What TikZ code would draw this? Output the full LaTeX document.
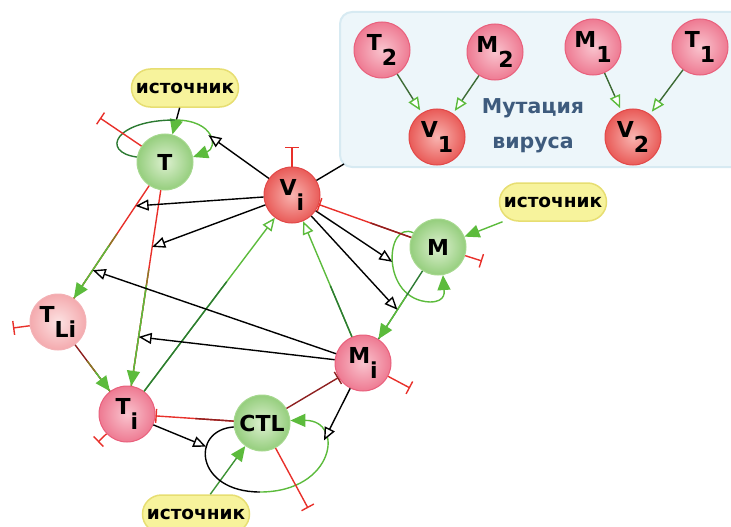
\documentclass[tikz,border=0pt]{standalone}
\usepackage{fontspec}
\setmainfont{DejaVu Sans}
\usetikzlibrary{arrows.meta}
\definecolor{inhred}{HTML}{E8302A}
\definecolor{deepred}{HTML}{8E2020}
\definecolor{muddy}{HTML}{8A7A25}
\definecolor{actgreen}{HTML}{5CBB3C}
\definecolor{deepgreen}{HTML}{2C7A32}
\definecolor{mutline}{HTML}{3D6B35}
\definecolor{boxfill}{HTML}{EDF6FA}
\definecolor{boxdraw}{HTML}{D7EAF2}
\definecolor{srcfill}{HTML}{F7F39C}
\definecolor{srcdraw}{HTML}{E7DE72}
\definecolor{mutblue}{HTML}{3E5B7D}
\definecolor{virusin}{HTML}{F8B4B0}
\definecolor{virusout}{HTML}{E95B58}
\definecolor{virusdraw}{HTML}{E24848}
\definecolor{sickin}{HTML}{F9C4CE}
\definecolor{sickout}{HTML}{EE7A92}
\definecolor{sickdraw}{HTML}{E9607C}
\definecolor{latin}{HTML}{FCE2E2}
\definecolor{latout}{HTML}{F4AAAE}
\definecolor{latdraw}{HTML}{F3B2B6}
\definecolor{immin}{HTML}{DDF0D0}
\definecolor{immout}{HTML}{95CE7D}
\definecolor{immdraw}{HTML}{A6D88F}
\newcommand{\idx}[1]{\raisebox{-0.7em}{#1}}

\begin{document}
\begin{tikzpicture}[x=1pt,y=-1pt,line width=1.4pt,
  cell/.style={circle,minimum size=56pt,inner sep=0pt,line width=1pt,
    font=\bfseries\fontsize{22}{22}\selectfont},
  virus/.style={cell,draw=virusdraw,inner color=virusin,outer color=virusout},
  sick/.style={cell,draw=sickdraw,inner color=sickin,outer color=sickout},
  latent/.style={cell,draw=latdraw,inner color=latin,outer color=latout},
  immune/.style={cell,draw=immdraw,inner color=immin,outer color=immout},
  source/.style={rounded corners=19pt,minimum width=107pt,minimum height=38pt,
    fill=srcfill,draw=srcdraw,line width=1.5pt,
    font=\bfseries\fontsize{18.5}{18}\selectfont},
  stim/.style={-{Triangle[length=13pt,width=11pt,fill=white]}},
  greenstim/.style={draw=actgreen,-{Triangle[length=13pt,width=11pt,color=actgreen,fill=white]}},
  feed/.style={-{Triangle[length=15pt,width=13pt,color=actgreen]}},
  inhibit/.style={-{Bar[width=14pt]}},
  mutarr/.style={draw=mutline,shorten >=3pt,
    -{Triangle[length=13pt,width=11pt,color=actgreen,fill=white]}}]
  \useasboundingbox (0,0) rectangle (731,527);

  % mutation panel
  \draw[boxdraw,fill=boxfill,line width=2pt,rounded corners=12pt]
    (340,12) rectangle (750,167);
  \coordinate (mutcorner) at (344,164);
  \node[sick] (T2) at (382,50) {T\idx{2}};
  \node[sick] (M2) at (495,52) {M\idx{2}};
  \node[sick] (M1) at (593,47) {M\idx{1}};
  \node[sick] (T1) at (700,47) {T\idx{1}};
  \node[virus] (V1) at (437,137) {V\idx{1}};
  \node[virus] (V2) at (633,137) {V\idx{2}};
  \node[font=\bfseries\fontsize{20.5}{35}\selectfont,text=mutblue,align=center]
    (mutlabel) at (533,126) {Мутация\\вируса};
  \draw[mutarr] (T2) -- (V1);
  \draw[mutarr] (M2) -- (V1);
  \draw[mutarr] (M1) -- (V2);
  \draw[mutarr] (T1) -- (V2);

  % cells
  \node[immune] (T) at (165,162) {T};
  \node[virus] (Vi) at (292,195) {V\idx{i}};
  \node[immune] (M) at (438,247) {M};
  \node[latent] (TLi) at (58,322) {T\idx{Li}};
  \node[sick] (Mi) at (363,363) {M\idx{i}};
  \node[sick] (Ti) at (127,414) {T\idx{i}};
  \node[immune] (CTL) at (262,423) {CTL};

  % sources
  \node[source] (srcT) at (185,88) {источник};
  \node[source] (srcM) at (553,202) {источник};
  \node[source] (srcC) at (196,514) {источник};
  \draw[feed] (srcT) -- (T);
  \draw[feed,draw=actgreen] (srcM) -- (M);
  \draw[feed,draw=deepgreen!60!actgreen] (srcC) -- (CTL);

  % proliferation loops
  \coordinate (Ttop) at (175,120);
  \draw[deepgreen] (T.170) .. controls (100,152) and (115,120) .. (Ttop);
  \draw[feed,draw=actgreen] (Ttop) .. controls (215,120) and (218,148) ..
    coordinate[pos=.5] (Tloop) (T.10);
  \coordinate (Mbot) at (430,302);
  \draw[actgreen] (M.150) .. controls (385,220) and (380,300) ..
    coordinate[pos=.5] (Mloop) (Mbot);
  \draw[feed,draw=actgreen] (Mbot) .. controls (447,302) and (444,290) .. (M.280);
  \coordinate (CTLbot) at (260,492);
  \draw (CTL.188) .. controls (190,430) and (195,492) ..
    coordinate[pos=.35] (CTLin) (CTLbot);
  \draw[feed,draw=actgreen] (CTLbot) .. controls (335,492) and (345,420) ..
    coordinate[pos=.65] (CTLin2) (CTL.5);

  % infection routes
  \path (T) -- coordinate[pos=.18] (onTL) coordinate[pos=.75] (onTLb) (TLi);
  \path (T) -- coordinate[pos=.29] (onTi) coordinate[pos=.75] (onTib) (Ti);
  \path (M) -- coordinate[pos=.57] (onMi) (Mi);
  \draw[inhred] (T) -- (TLi);
  \draw[muddy,shorten <=58pt] (T) -- (TLi);
  \draw[feed,draw=actgreen,shorten <=72pt] (T) -- (TLi);
  \draw[inhred] (T) -- (Ti);
  \draw[muddy,shorten <=80pt] (T) -- (Ti);
  \draw[feed,draw=actgreen,shorten <=96pt] (T) -- (Ti);
  \draw[deepred] (TLi) -- (Ti);
  \draw[muddy,shorten <=20pt] (TLi) -- (Ti);
  \draw[feed,draw=actgreen,shorten <=34pt] (TLi) -- (Ti);
  \draw[deepgreen] (M) -- (Mi);
  \draw[feed,draw=actgreen,shorten <=30pt] (M) -- (Mi);

  % virus production
  \draw[greenstim] (Ti) -- (Vi);
  \draw[deepgreen,shorten >=80pt] (Ti) -- (Vi);
  \draw[greenstim] (Mi) -- (Vi);
  \draw[deepgreen,shorten >=70pt] (Mi) -- (Vi);

  % stimulation
  \draw[stim] (Vi) -- (Tloop);
  \draw[stim] (Vi) -- (onTL);
  \draw[stim] (Vi) -- (onTi);
  \draw[stim] (Vi) -- (Mloop);
  \draw[stim] (Vi) -- (onMi);
  \draw[stim] (Mi) -- (onTLb);
  \draw[stim] (Mi) -- (onTib);
  \draw[stim] (Mi) -- (CTLin2);
  \draw[stim] (Ti) -- (CTLin);
  \draw (Vi) -- (mutcorner);

  % decay and killing
  \coordinate (Tdeg) at (100,118);
  \coordinate (Videg) at (292,147);
  \coordinate (TLideg) at (13,328);
  \coordinate (Tideg) at (98,442);
  \coordinate (Mdeg) at (482,261);
  \coordinate (Mideg) at (410,388);
  \coordinate (CTLdeg) at (308,508);
  \draw[inhibit,inhred] (T) -- (Tdeg);
  \draw[inhibit,inhred] (Vi) -- (Videg);
  \draw[inhibit,inhred] (TLi) -- (TLideg);
  \draw[inhibit,inhred] (Ti) -- (Tideg);
  \draw[inhibit,inhred] (M) -- (Mdeg);
  \draw[inhibit,inhred] (Mi) -- (Mideg);
  \draw[inhibit,inhred] (CTL) -- (CTLdeg);
  \draw[inhibit,inhred] (M) -- (Vi);
  \draw[deepred,shorten >=55pt] (M) -- (Vi);
  \draw[inhibit,inhred] (CTL) -- (Ti);
  \draw[deepred,shorten >=40pt] (CTL) -- (Ti);
  \draw[inhibit,deepred] (CTL) -- (Mi);
\end{tikzpicture}
\end{document}
